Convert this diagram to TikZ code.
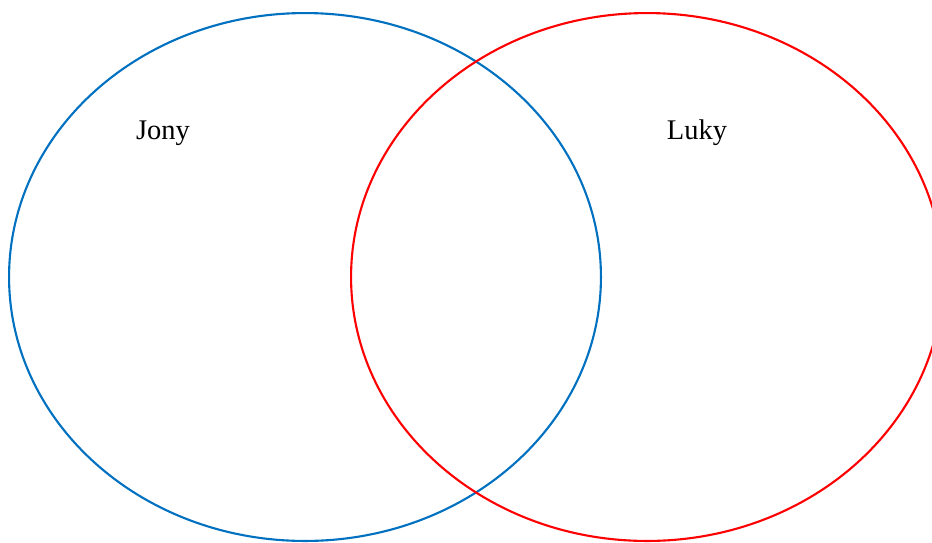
\documentclass[tikz,border=0pt]{standalone}
\usepackage{fontspec}
\setmainfont{Liberation Serif}
\usepackage{xcolor}
\definecolor{jonyblue}{RGB}{0,112,192}
\definecolor{lukyred}{RGB}{255,0,0}
\usetikzlibrary{shapes.geometric, positioning}

\begin{document}
\begin{tikzpicture}[
  x=0.02cm, y=-0.02cm,
  vennset/.style={ellipse, line width=1.2pt, minimum width=11.84cm,
              minimum height=10.56cm, inner sep=0pt},
  setlabel/.style={font=\fontsize{16.2}{19}\selectfont, inner sep=0pt}
]
\useasboundingbox (0,0) rectangle (932,542);
\clip (0,0) rectangle (932,542);

% ---- Sets ----
\node[vennset, draw=jonyblue] (jonyset) at (305,277) {};
\node[vennset, draw=lukyred] (lukyset) at (647,277) {};

% ---- Labels ----
\node[setlabel] (jony) at (163,133) {Jony};
\node[setlabel] (luky) at (697,133) {Luky};

\end{tikzpicture}
\end{document}
